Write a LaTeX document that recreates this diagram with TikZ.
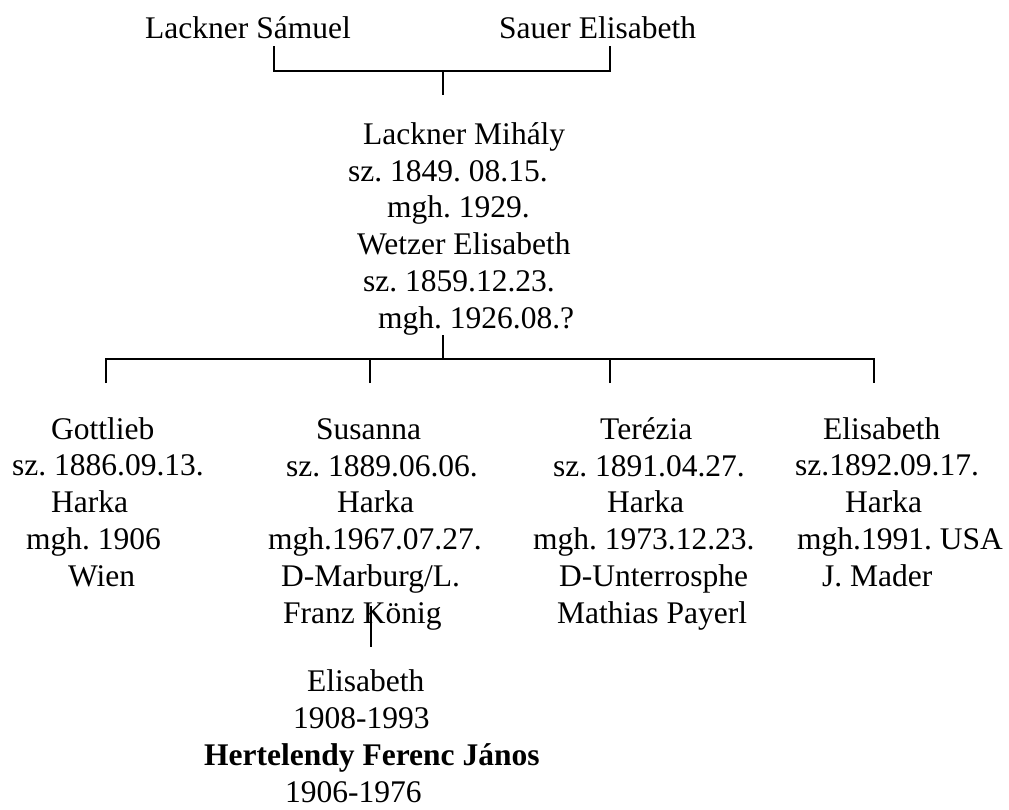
\documentclass[tikz,border=0pt]{standalone}
\usepackage{fontspec}
\setmainfont{Liberation Serif}
\frenchspacing

\begin{document}
\begin{tikzpicture}[x=1pt,y=-1pt]
\tikzset{szemely/.style={align=left, anchor=base west, inner sep=0pt, font=\fontsize{31.5}{36.7}\selectfont},
  vonal/.style={line width=1.5pt}}
\useasboundingbox (0,0) rectangle (1009,809);
% nagyszulok
\node[szemely] (samuel) at (145,38) {Lackner Sámuel};
\node[szemely] (sauer) at (499,38) {Sauer Elisabeth};
\coordinate (samuelleg) at (274,46);
\coordinate (sauerleg) at (610,46);
\coordinate (hazassag) at (443,71);
\coordinate (mihalyfel) at (443,95);
\draw[vonal] (samuelleg) |- (hazassag) -| (sauerleg);
\draw[vonal] (hazassag) -- (mihalyfel);
% szulok (base = utolso sor)
\node[szemely] (mihaly) at (348,328) {\hspace*{15pt}Lackner Mihály\\
  sz. 1849. 08.15.\\
  \hspace*{39pt}mgh. 1929.\\
  \hspace*{9pt}Wetzer Elisabeth\\
  \hspace*{15pt}sz. 1859.12.23.\\
  \hspace*{30pt}mgh. 1926.08.?};
% gyerekek
\node[szemely] (gottlieb) at (12,586) {\hspace*{39pt}Gottlieb\\
  sz. 1886.09.13.\\
  \hspace*{39pt}Harka\\
  \hspace*{14pt}mgh. 1906\\
  \hspace*{56pt}Wien};
\node[szemely] (susanna) at (268,623) {\hspace*{48pt}Susanna\\
  \hspace*{18pt}sz. 1889.06.06.\\
  \hspace*{69pt}Harka\\
  mgh.1967.07.27.\\
  \hspace*{13pt}D-Marburg/L.\\
  \hspace*{15pt}Franz König};
\node[szemely] (terezia) at (533,623) {\hspace*{67pt}Terézia\\
  \hspace*{20pt}sz. 1891.04.27.\\
  \hspace*{74pt}Harka\\
  mgh. 1973.12.23.\\
  \hspace*{26pt}D-Unterrosphe\\
  \hspace*{24pt}Mathias Payerl};
\node[szemely] (elisabeth) at (795,586) {\hspace*{28pt}Elisabeth\\
  sz.1892.09.17.\\
  \hspace*{50pt}Harka\\
  \hspace*{2pt}mgh.1991. USA\\
  \hspace*{27pt}J. Mader};
\coordinate (gyerekek) at (443,359);
\coordinate (g1) at (106,383);
\coordinate (g2) at (370,383);
\coordinate (g3) at (610,383);
\coordinate (g4) at (874,383);
\draw[vonal] (mihaly.south -| gyerekek) -- (gyerekek);
\draw[vonal] (g1) -- ++(0,-24) -| (g4);
\draw[vonal] (g2) -- (g2 |- gyerekek);
\draw[vonal] (g3) -- (g3 |- gyerekek);
% unoka
\coordinate (susannale) at (371,606);
\coordinate (unokafel) at (371,647);
\draw[vonal] (susannale) -- (unokafel);
\node[szemely] (unoka) at (204,802) {\hspace*{103pt}Elisabeth\\
  \hspace*{89pt}1908-1993\\
  \textbf{Hertelendy Ferenc János}\\
  \hspace*{81pt}1906-1976};
\end{tikzpicture}
\end{document}
